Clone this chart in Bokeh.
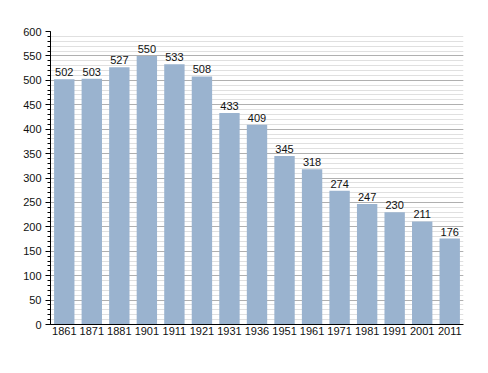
from bokeh.plotting import figure
from bokeh.models import ColumnDataSource, FactorRange, Range1d, SingleIntervalTicker, LabelSet
from bokeh.core.properties import value
from bokeh.embed import file_html
from bokeh.resources import INLINE

years = ["1861", "1871", "1881", "1901", "1911", "1921", "1931", "1936", "1951",
         "1961", "1971", "1981", "1991", "2001", "2011"]
population = [502, 503, 527, 550, 533, 508, 433, 409, 345, 318, 274, 247, 230, 211, 176]

src = ColumnDataSource(dict(x=years, y=population, lbl=[str(v) for v in population]))

p = figure(x_range=FactorRange(*years, range_padding=0), y_range=Range1d(0, 600),
           width=480, height=352, output_backend="svg", toolbar_location=None,
           min_border_left=50, min_border_right=17, min_border_top=31, min_border_bottom=28)
p.outline_line_color = None
p.background_fill_color = "white"

p.vbar(x="x", top="y", width=0.74, source=src, color="#9AB3CF", line_color=None)

labels = LabelSet(x="x", y="y", text="lbl", source=src, text_align="center",
                  text_baseline="bottom", y_offset=3, text_font=value("Liberation Sans"),
                  text_font_size="11px", text_color="#111111")
p.add_layout(labels)

p.yaxis.ticker = SingleIntervalTicker(interval=50, num_minor_ticks=5)
p.yaxis.major_tick_in = 0
p.yaxis.major_tick_out = 5
p.yaxis.minor_tick_in = 0
p.yaxis.minor_tick_out = 3
p.yaxis.axis_line_color = "black"
p.yaxis.major_tick_line_color = "black"
p.yaxis.minor_tick_line_color = "black"
p.yaxis.major_label_text_font = "Liberation Sans"
p.yaxis.major_label_text_font_size = "11px"
p.yaxis.major_label_text_color = "#111111"
p.yaxis.major_label_standoff = 4

p.xaxis.axis_line_color = "black"
p.xaxis.major_tick_in = 0
p.xaxis.major_tick_out = 0
p.xaxis.major_tick_line_color = None
p.xaxis.minor_tick_line_color = None
p.xaxis.major_label_text_font = "Liberation Sans"
p.xaxis.major_label_text_font_size = "11px"
p.xaxis.major_label_text_color = "#111111"
p.xaxis.major_label_standoff = 2

p.xgrid.grid_line_color = None
p.ygrid.grid_line_color = "#b0b0b0"
p.ygrid.minor_grid_line_color = "#e0e0e0"
p.ygrid.level = "underlay"

open("out.html", "w").write(file_html(p, INLINE))
